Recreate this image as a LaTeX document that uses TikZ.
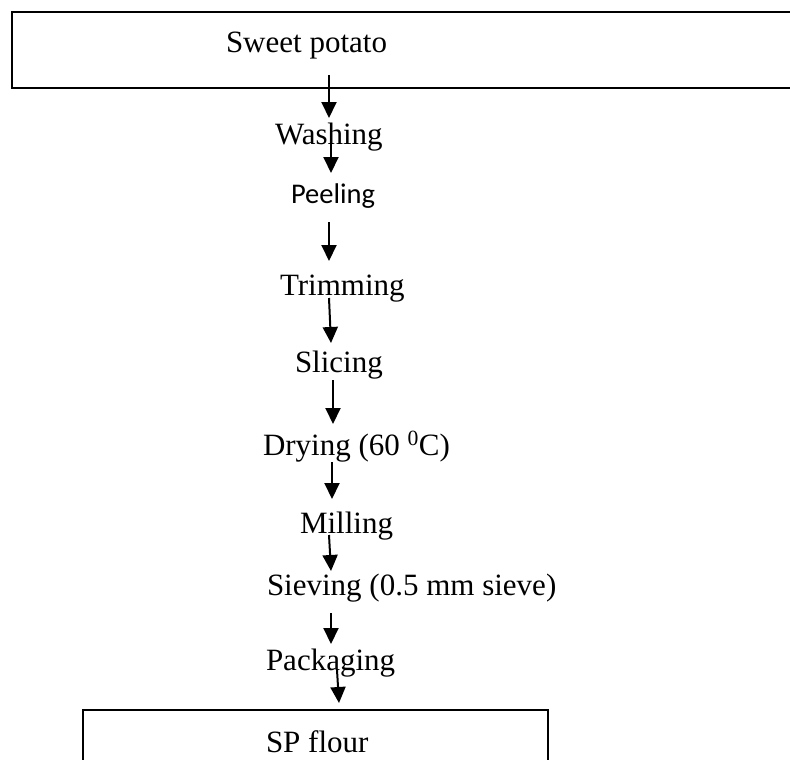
\documentclass[tikz,border=0pt]{standalone}
\usepackage{fontspec}
\setmainfont{Liberation Serif}
\newfontfamily\calibrifont{Carlito}
\usetikzlibrary{arrows.meta}
\begin{document}
\begin{tikzpicture}[x=1pt,y=-1pt,
  boxframe/.style={draw,line width=2.5pt,inner sep=0pt,outer sep=0pt},
  steplabel/.style={anchor=base west,inner sep=0pt,outer sep=0pt,font=\fontsize{31}{36}\selectfont},
  peellabel/.style={anchor=base west,inner sep=0pt,outer sep=0pt,font=\calibrifont\fontsize{28.5}{34}\selectfont},
  flowarrow/.style={line width=2pt,-{Triangle[width=15pt,length=16pt]}}]
\clip (0,0) rectangle (790,760);
\fill[white] (0,0) rectangle (790,760);
% boxes
\node[boxframe,minimum width=788pt,minimum height=76pt] (topbox) at (406,50) {};
\node[boxframe,minimum width=465pt,minimum height=90pt] (botbox) at (315.5,755) {};
% labels
\node[steplabel] (sweet) at (226,53) {Sweet potato};
\node[steplabel] (wash) at (275,144) {Washing};
\node[peellabel] (peel) at (291,203) {Peeling};
\node[steplabel] (trim) at (280,295) {Trimming};
\node[steplabel] (slice) at (295,372) {Slicing};
\node[steplabel] (dry) at (263,455) {Drying (60 \textsuperscript{0}C)};
\node[steplabel] (mill) at (300,533) {Milling};
\node[steplabel] (sieve) at (267,595) {Sieving (0.5 mm sieve)};
\node[steplabel] (pack) at (266,670) {Packaging};
\node[steplabel] (flour) at (266,752) {SP flour};
% arrow end points
\coordinate (a1s) at (329,75);  \coordinate (a1e) at (329,118);
\coordinate (a2s) at (331,138); \coordinate (a2e) at (331,173);
\coordinate (a3s) at (329,222); \coordinate (a3e) at (329,261);
\coordinate (a4s) at (329,298); \coordinate (a4e) at (331,343);
\coordinate (a5s) at (333,380); \coordinate (a5e) at (333,424);
\coordinate (a6s) at (332,462); \coordinate (a6e) at (332,499);
\coordinate (a7s) at (329,535); \coordinate (a7e) at (331,571);
\coordinate (a8s) at (331,613); \coordinate (a8e) at (331,644);
\coordinate (a9s) at (337,670); \coordinate (a9e) at (339,703);
\draw[flowarrow] (a1s) -- (a1e);
\draw[flowarrow] (a2s) -- (a2e);
\draw[flowarrow] (a3s) -- (a3e);
\draw[flowarrow] (a4s) -- (a4e);
\draw[flowarrow] (a5s) -- (a5e);
\draw[flowarrow] (a6s) -- (a6e);
\draw[flowarrow] (a7s) -- (a7e);
\draw[flowarrow] (a8s) -- (a8e);
\draw[flowarrow] (a9s) -- (a9e);
\end{tikzpicture}
\end{document}
